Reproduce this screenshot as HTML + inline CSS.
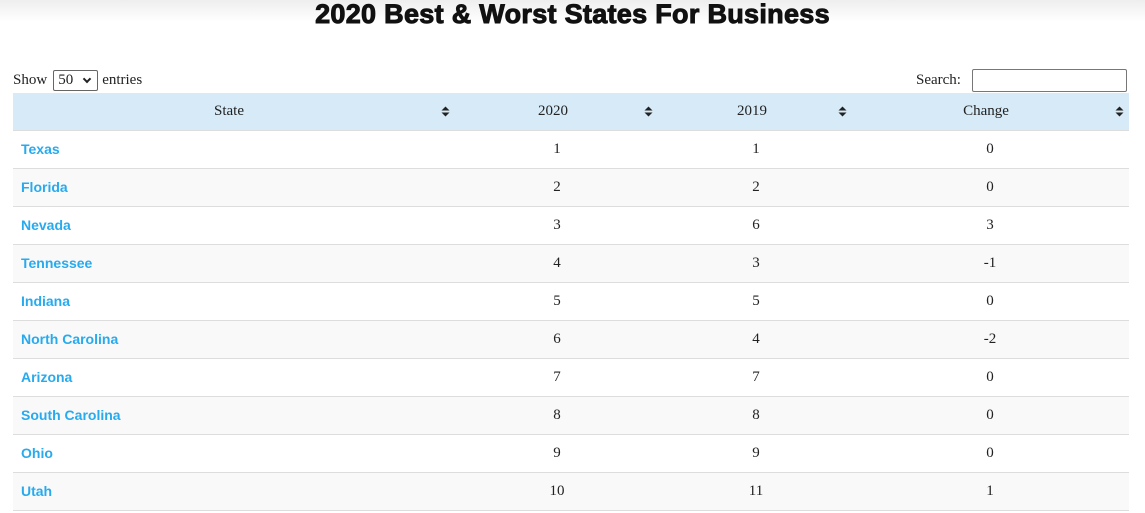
<!DOCTYPE html>
<html><head><meta charset="utf-8"><style>
html,body{margin:0;padding:0;width:1145px;height:513px;overflow:hidden;background:#fff;}
body{font-family:"Liberation Serif",serif;font-size:15px;color:#222;position:relative;}
.shadow{position:absolute;left:0;top:0;width:1145px;height:22px;background:linear-gradient(#eee,#fff);}
h1{position:absolute;left:0;width:1145px;top:0;margin:0;text-align:center;font-family:"Liberation Sans",sans-serif;font-weight:900;font-size:27px;line-height:28px;color:#111;letter-spacing:0.3px;-webkit-text-stroke:1px #111;}
.show{position:absolute;left:13px;top:69px;line-height:22px;}
.sel{display:inline-block;width:45px;height:21px;border:1px solid #666;border-radius:2px;vertical-align:middle;position:relative;box-sizing:border-box;line-height:19px;padding-left:4px;margin:0 4px 0 6px;}
.sel:after{content:"";position:absolute;right:7px;top:5px;width:4px;height:4px;border-right:2px solid #222;border-bottom:2px solid #222;transform:rotate(45deg);}
.search{position:absolute;left:916px;top:69px;line-height:22px;}
.search span{display:inline-block;width:155px;height:23px;border:1px solid #777;vertical-align:middle;box-sizing:border-box;border-radius:2px;margin-left:11px;}
table{position:absolute;left:13px;top:93px;border-collapse:collapse;width:1116px;table-layout:fixed;}
th{background:#d6eaf8;height:37px;font-weight:normal;position:relative;padding:0 18px 0 10px;text-align:center;border-bottom:1px solid #ddd;}
th svg{position:absolute;top:13px;}
td{height:37px;border-bottom:1px solid #ddd;text-align:center;padding:0 10px;}
td.n{padding-top:1px;height:36px;}
td.s{text-align:left;padding-left:8px;font-family:"Liberation Sans",sans-serif;font-weight:bold;font-size:14px;color:#27aaee;padding-bottom:1px;height:36px;}
tr.e td{background:#f9f9f9;}
</style></head><body>
<div class="shadow"></div>
<h1>2020 Best &amp; Worst States For Business</h1>
<div class="show">Show<span class="sel">50</span>entries</div>
<div class="search">Search:<span></span></div>
<table>
<colgroup><col style="width:440px"><col style="width:208px"><col style="width:190px"><col style="width:278px"></colgroup>
<tr><th>State<svg width="9" height="11" style="right:3px"><path d="M0.5 4.5L4.5 0.5L8.5 4.5Z M0.5 6.5L4.5 10.5L8.5 6.5Z" fill="#222"/></svg></th><th>2020<svg width="9" height="11" style="right:8px"><path d="M0.5 4.5L4.5 0.5L8.5 4.5Z M0.5 6.5L4.5 10.5L8.5 6.5Z" fill="#222"/></svg></th><th>2019<svg width="9" height="11" style="right:4px"><path d="M0.5 4.5L4.5 0.5L8.5 4.5Z M0.5 6.5L4.5 10.5L8.5 6.5Z" fill="#222"/></svg></th><th>Change<svg width="9" height="11" style="right:5px"><path d="M0.5 4.5L4.5 0.5L8.5 4.5Z M0.5 6.5L4.5 10.5L8.5 6.5Z" fill="#222"/></svg></th></tr>
<tr><td class="s">Texas</td><td>1</td><td>1</td><td>0</td></tr>
<tr class="e"><td class="s">Florida</td><td>2</td><td>2</td><td>0</td></tr>
<tr><td class="s">Nevada</td><td>3</td><td>6</td><td>3</td></tr>
<tr class="e"><td class="s">Tennessee</td><td>4</td><td>3</td><td>-1</td></tr>
<tr><td class="s">Indiana</td><td>5</td><td>5</td><td>0</td></tr>
<tr class="e"><td class="s">North Carolina</td><td>6</td><td>4</td><td>-2</td></tr>
<tr><td class="s">Arizona</td><td>7</td><td>7</td><td>0</td></tr>
<tr class="e"><td class="s">South Carolina</td><td>8</td><td>8</td><td>0</td></tr>
<tr><td class="s">Ohio</td><td>9</td><td>9</td><td>0</td></tr>
<tr class="e"><td class="s">Utah</td><td>10</td><td>11</td><td>1</td></tr>
</table>
</body></html>
